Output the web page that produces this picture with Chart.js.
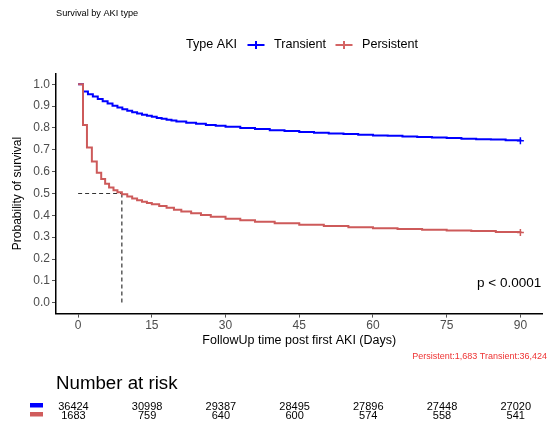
<!DOCTYPE html>
<html>
<head>
<meta charset="utf-8">
<script src="https://cdn.jsdelivr.net/npm/chart.js@4/dist/chart.umd.min.js"></script>
<style>
  html, body { margin: 0; padding: 0; background: #ffffff; }
  #wrap { width: 548px; height: 428px; position: relative; }
</style>
</head>
<body>
<div id="wrap"><canvas id="km" width="548" height="428"></canvas></div>
<script>
// Kaplan-Meier survival by AKI type (days since first AKI)
const transientDays = [0, 1, 2, 3, 4, 5, 6, 7, 8, 9, 10, 11, 12, 13, 14, 15, 16, 17, 18, 19, 20,
  22, 24, 26, 28, 30, 33, 36, 39, 42, 45, 48, 51, 54, 57, 60, 63, 66, 69, 72, 75, 78, 81, 84, 87, 90];
const transientSurv = [1.000, 0.967, 0.955, 0.944, 0.933, 0.922, 0.912, 0.902, 0.894, 0.886, 0.879,
  0.872, 0.866, 0.861, 0.856, 0.851, 0.846, 0.842, 0.838, 0.834, 0.830,
  0.824, 0.819, 0.814, 0.810, 0.806, 0.800, 0.795, 0.790, 0.786, 0.782, 0.778, 0.775, 0.772, 0.769,
  0.766, 0.764, 0.761, 0.759, 0.756, 0.754, 0.751, 0.749, 0.747, 0.744, 0.741];

const persistentDays = [0, 1.0, 1.8, 2.8, 3.8, 4.7, 5.5, 6.3, 7.2, 8.0, 8.9, 10, 11, 12, 13, 14, 15,
  16.5, 18, 19.5, 21, 23, 25, 27, 30, 33, 36, 40, 45, 50, 55, 60, 65, 70, 75, 80, 85, 90];
const persistentSurv = [1.000, 0.814, 0.711, 0.646, 0.595, 0.566, 0.545, 0.528, 0.515, 0.506, 0.497,
  0.486, 0.477, 0.469, 0.462, 0.456, 0.451, 0.443, 0.435, 0.426, 0.418, 0.409, 0.401, 0.394, 0.384,
  0.377, 0.371, 0.364, 0.357, 0.351, 0.346, 0.341, 0.337, 0.334, 0.331, 0.328, 0.324, 0.321];

const persistentMedian = 8.9;

// Number at risk table
const riskTimes = [0, 15, 30, 45, 60, 75, 90];
const riskTransient = [36424, 30998, 29387, 28495, 27896, 27448, 27020];
const riskPersistent = [1683, 759, 640, 600, 574, 558, 541];

const xTicks = [0, 15, 30, 45, 60, 75, 90];
const yTicks = [0.0, 0.1, 0.2, 0.3, 0.4, 0.5, 0.6, 0.7, 0.8, 0.9, 1.0];

const BLUE = '#0000ff';
const RED = '#cd5a5a';
const FONT = '"Liberation Sans", Arial, Helvetica, sans-serif';

const toPoints = (xs, ys) => xs.map((x, i) => ({ x: x, y: ys[i] }));
const lastOnly = n => ctx => (ctx.dataIndex === n - 1 ? 3.5 : 0);

const annotations = {
  id: 'kmText',
  afterDraw(chart) {
    const c = chart.ctx;
    const xr = chart.scales.xr;
    const area = chart.chartArea;
    c.save();
    c.textBaseline = 'middle';

    // title
    c.fillStyle = '#000';
    c.textAlign = 'left';
    c.font = '9.2px ' + FONT;
    c.fillText('Survival by AKI type', 56, 13.5);

    // legend
    const ly = 45;
    c.font = '12.6px ' + FONT;
    c.fillText('Type AKI', 186, ly);
    const sym = (x0, col) => {
      c.strokeStyle = col;
      c.lineWidth = 2;
      c.beginPath();
      c.moveTo(x0, ly); c.lineTo(x0 + 17, ly);
      c.moveTo(x0 + 8.5, ly - 4); c.lineTo(x0 + 8.5, ly + 4);
      c.stroke();
    };
    sym(247.5, BLUE);
    c.fillStyle = '#000';
    c.fillText('Transient', 274, ly);
    sym(335.5, '#d46464');
    c.fillStyle = '#000';
    c.fillText('Persistent', 362, ly);

    // axis titles
    c.textAlign = 'center';
    c.font = '12.5px ' + FONT;
    c.fillText('FollowUp time post first AKI (Days)', (area.left + area.right) / 2, 341);
    c.save();
    c.translate(18, (area.top + area.bottom) / 2);
    c.rotate(-Math.PI / 2);
    c.font = '12px ' + FONT;
    c.fillText('Probability of survival', 0, 0);
    c.restore();

    // p-value
    c.textAlign = 'left';
    c.font = '13.5px ' + FONT;
    c.fillText('p < 0.0001', 477, 283);

    // group sizes
    c.textAlign = 'right';
    c.fillStyle = '#ee3333';
    c.font = '9px ' + FONT;
    c.fillText('Persistent:1,683 Transient:36,424', 547, 357);

    // number at risk
    c.textAlign = 'left';
    c.fillStyle = '#000';
    c.font = '18.7px ' + FONT;
    c.fillText('Number at risk', 56, 384);

    c.fillStyle = BLUE;
    c.fillRect(30, 403, 13, 4.5);
    c.fillStyle = '#d05c5c';
    c.fillRect(30, 412, 13, 4.5);

    c.fillStyle = '#000';
    c.textAlign = 'center';
    c.font = '11px ' + FONT;
    riskTimes.forEach((t, i) => {
      const px = xr.getPixelForValue(t);
      c.fillText(String(riskTransient[i]), px, 406.5);
      c.fillText(String(riskPersistent[i]), px, 415.5);
    });
    c.restore();
  }
};

new Chart(document.getElementById('km'), {
  type: 'line',
  data: {
    datasets: [
      {
        label: 'Persistent',
        data: toPoints(persistentDays, persistentSurv),
        xAxisID: 'x', yAxisID: 'y',
        borderColor: RED, backgroundColor: RED,
        borderWidth: 2, stepped: 'before', fill: false,
        pointStyle: 'cross', pointRadius: lastOnly(persistentDays.length),
        pointBorderWidth: 1.5, pointBorderColor: RED
      },
      {
        label: 'Transient',
        data: toPoints(transientDays, transientSurv),
        xAxisID: 'x', yAxisID: 'y',
        borderColor: BLUE, backgroundColor: BLUE,
        borderWidth: 2, stepped: 'before', fill: false,
        pointStyle: 'cross', pointRadius: lastOnly(transientDays.length),
        pointBorderWidth: 1.5, pointBorderColor: BLUE
      },
      {
        label: 'median-h',
        data: [{ x: 0, y: 0.5 }, { x: persistentMedian, y: 0.5 }],
        xAxisID: 'x', yAxisID: 'y',
        borderColor: '#333333', borderWidth: 1.2, borderDash: [4, 3],
        pointRadius: 0, fill: false
      },
      {
        label: 'median-v',
        data: [{ x: persistentMedian, y: 0.5 }, { x: persistentMedian, y: 0 }],
        xAxisID: 'x', yAxisID: 'y',
        borderColor: '#333333', borderWidth: 1.2, borderDash: [4, 3],
        pointRadius: 0, fill: false
      }
    ]
  },
  options: {
    responsive: false,
    animation: false,
    devicePixelRatio: 1,
    layout: { padding: { top: 73.4, right: 1, left: 0, bottom: 0 } },
    plugins: { legend: { display: false }, tooltip: { enabled: false }, title: { display: false } },
    scales: {
      x: {
        type: 'linear', position: 'bottom',
        min: -4.5, max: 94.5,
        afterFit(s) { s.height = 428 - 313.6; },
        afterBuildTicks(s) { s.ticks = xTicks.map(v => ({ value: v })); },
        ticks: {
          color: '#4d4d4d', padding: 1, maxRotation: 0, autoSkip: false,
          font: { family: FONT, size: 12 },
          callback: v => String(v)
        },
        grid: { display: true, drawOnChartArea: false, drawTicks: true, tickLength: 4, color: '#555555', lineWidth: 1 },
        border: { display: true, color: '#000000', width: 1.5 }
      },
      // risk-table columns sit slightly left of the plot's own x positions
      xr: {
        type: 'linear', position: 'bottom', display: false,
        min: -3.55, max: 95.45
      },
      y: {
        type: 'linear', position: 'left',
        min: -0.05, max: 1.05,
        afterFit(s) { s.width = 56; },
        afterBuildTicks(s) { s.ticks = yTicks.map(v => ({ value: v })); },
        ticks: {
          color: '#4d4d4d', padding: 2, autoSkip: false,
          font: { family: FONT, size: 12 },
          callback: v => Number(v).toFixed(1)
        },
        grid: { display: true, drawOnChartArea: false, drawTicks: true, tickLength: 4, color: '#555555', lineWidth: 1 },
        border: { display: true, color: '#000000', width: 1.5 }
      }
    }
  },
  plugins: [annotations]
});
</script>
</body>
</html>
